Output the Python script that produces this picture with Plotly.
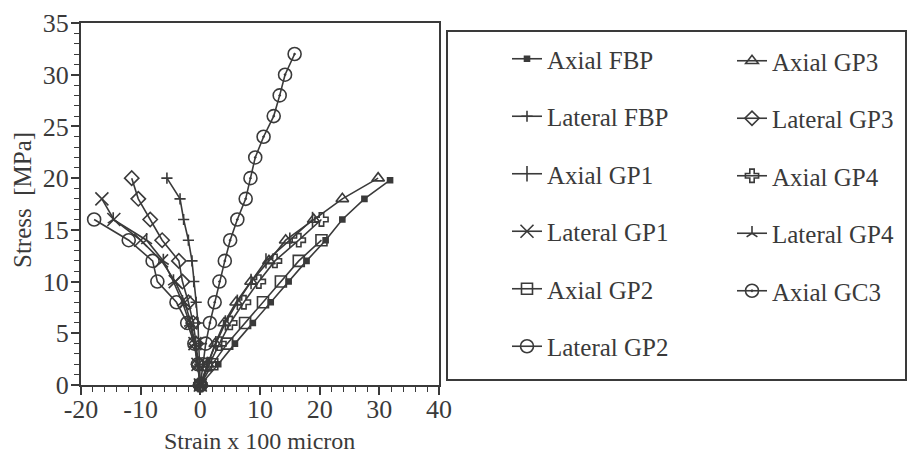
import plotly.graph_objects as go

# ---------------- data ----------------
axial_fbp_strain = [0, 3.0, 5.8, 8.8, 11.8, 14.8, 17.8, 21.0, 23.8, 27.5, 31.8]
axial_fbp_stress = [0, 2, 4, 6, 8, 10, 12, 14, 16, 18, 19.8]

lateral_fbp_strain = [0, -0.1, -0.2, -0.4, -0.7, -1.1, -1.4, -2.0, -2.8, -3.4, -5.6]
lateral_fbp_stress = [0, 2, 4, 6, 8, 10, 12, 14, 16, 18, 20]

axial_gp1_strain = [0, 1.2, 2.6, 4.2, 6.2, 8.5, 11.0, 15.0, 18.8]
axial_gp1_stress = [0, 2, 4, 6, 8, 10, 12, 14, 16]

lateral_gp1_strain = [0, -0.4, -0.9, -1.6, -2.6, -4.2, -6.5, -10.0, -14.5, -16.5]
lateral_gp1_stress = [0, 2, 4, 6, 8, 10, 12, 14, 16, 18]

axial_gp2_strain = [0, 2.0, 4.5, 7.5, 10.5, 13.5, 16.5, 20.3]
axial_gp2_stress = [0, 2, 4, 6, 8, 10, 12, 14]

lateral_gp2_strain = [0, -0.4, -1.0, -2.2, -4.0, -7.2, -8.0, -12.0, -17.8]
lateral_gp2_stress = [0, 2, 4, 6, 8, 10, 12, 14, 16]

axial_gp3_strain = [0, 1.2, 2.5, 4.0, 6.0, 8.5, 11.5, 14.3, 19.0, 23.8, 29.8]
axial_gp3_stress = [0, 2, 4, 6, 8, 10, 12, 14, 16, 18, 20]

lateral_gp3_strain = [0, -0.3, -0.7, -1.2, -2.0, -3.0, -3.6, -6.4, -8.4, -10.4, -11.5]
lateral_gp3_stress = [0, 2, 4, 6, 8, 10, 12, 14, 16, 18, 20]

axial_gp4_strain = [0, 1.5, 3.2, 5.0, 7.3, 9.8, 12.5, 16.5, 20.3]
axial_gp4_stress = [0, 2, 4, 6, 8, 10, 12, 14, 16]

lateral_gp4_strain = [0, -0.5, -1.0, -1.8, -3.0, -4.5, -6.2, -9.0, -14.6]
lateral_gp4_stress = [0, 2, 4, 6, 8, 10, 12, 14, 16]

axial_gc3_strain = [0, 0.4, 0.9, 1.6, 2.4, 3.2, 4.1, 5.0, 6.2, 7.6, 8.4, 9.2, 10.6, 12.3, 13.3, 14.2, 15.8]
axial_gc3_stress = [0, 2, 4, 6, 8, 10, 12, 14, 16, 18, 20, 22, 24, 26, 28, 30, 32]

x_tick_values = [-20, -10, 0, 10, 20, 30, 40]
y_tick_values = [0, 5, 10, 15, 20, 25, 30, 35]

x_title = "Strain x 100 micron"
y_title = "Stress  [MPa]"

# ---------------- styling ----------------
INK = "#3a3a3a"
FONT = "Liberation Serif"

series = [
    # name, x, y, symbol, size, legend
    ("Axial FBP", axial_fbp_strain, axial_fbp_stress, "square", 5, "legend"),
    ("Lateral FBP", lateral_fbp_strain, lateral_fbp_stress, "cross-thin-open", 8, "legend"),
    ("Axial GP1", axial_gp1_strain, axial_gp1_stress, "line-ns-open", 11, "legend"),
    ("Lateral GP1", lateral_gp1_strain, lateral_gp1_stress, "x-thin-open", 13, "legend"),
    ("Axial GP2", axial_gp2_strain, axial_gp2_stress, "square-open", 11, "legend"),
    ("Lateral GP2", lateral_gp2_strain, lateral_gp2_stress, "circle-open", 13, "legend"),
    ("Axial GP3", axial_gp3_strain, axial_gp3_stress, "triangle-up-open", 11, "legend2"),
    ("Lateral GP3", lateral_gp3_strain, lateral_gp3_stress, "diamond-open", 11, "legend2"),
    ("Axial GP4", axial_gp4_strain, axial_gp4_stress, "cross-open", 11, "legend2"),
    ("Lateral GP4", lateral_gp4_strain, lateral_gp4_stress, "y-up-open", 9, "legend2"),
    ("Axial GC3", axial_gc3_strain, axial_gc3_stress, "circle-open-dot", 13, "legend2"),
]

fig = go.Figure()
for name, xs, ys, sym, size, leg in series:
    fig.add_trace(go.Scatter(
        x=xs, y=ys, name=name, mode="lines+markers",
        line=dict(color=INK, width=1.6),
        marker=dict(symbol=sym, size=size, color=INK,
                    line=dict(color=INK, width=1.6)),
        legend=leg, legendgroup=name, cliponaxis=False,
    ))

W, H = 911, 456
L, R, T, B = 81, 439, 23, 385
pw, ph = R - L, B - T

legend_common = dict(
    font=dict(family=FONT, size=25, color=INK),
    bgcolor="rgba(0,0,0,0)", borderwidth=0,
    traceorder="grouped", tracegroupgap=22,
    xref="container", yref="container",
    xanchor="left", yanchor="top",
    maxheight=420,
)

fig.update_layout(
    template="none",
    width=W, height=H,
    margin=dict(l=L, r=W - R, t=T, b=H - B, autoexpand=False),
    paper_bgcolor="white", plot_bgcolor="white",
    font=dict(family=FONT, size=24, color=INK),
    showlegend=True,
    legend=dict(x=507 / W, y=1 - 36 / H, **legend_common),
    legend2=dict(x=732 / W, y=1 - 38 / H, **legend_common),
    xaxis=dict(
        range=[-20, 40], tickvals=x_tick_values,
        ticktext=[str(v) for v in x_tick_values],
        ticks="outside", ticklen=8, tickwidth=1.6, tickcolor=INK,
        minor=dict(dtick=2, ticks="outside", ticklen=5, tickwidth=1.2, tickcolor=INK),
        showline=True, linecolor=INK, linewidth=2, mirror=True,
        showgrid=False, zeroline=False, automargin=False,
        tickfont=dict(family=FONT, size=26, color=INK),
        ticklabelstandoff=-8,
    ),
    yaxis=dict(
        range=[0, 35], tickvals=y_tick_values,
        ticktext=[str(v) for v in y_tick_values],
        ticks="outside", ticklen=8, tickwidth=1.6, tickcolor=INK,
        minor=dict(dtick=1, ticks="outside", ticklen=5, tickwidth=1.2, tickcolor=INK),
        showline=True, linecolor=INK, linewidth=2, mirror=True,
        showgrid=False, zeroline=False, automargin=False,
        tickfont=dict(family=FONT, size=26, color=INK),
        ticklabelstandoff=-3,
    ),
)

# axis titles as annotations for exact placement
fig.add_annotation(text=x_title, xref="paper", yref="paper",
                   x=(259 - L) / pw, y=(B - 441) / ph,
                   xanchor="center", yanchor="middle", showarrow=False,
                   font=dict(family=FONT, size=24, color=INK))
fig.add_annotation(text=y_title, xref="paper", yref="paper",
                   x=(22 - L) / pw, y=(B - 200) / ph, textangle=-90,
                   xanchor="center", yanchor="middle", showarrow=False,
                   font=dict(family=FONT, size=25, color=INK))

# legend frame
fig.add_shape(type="rect", xref="paper", yref="paper",
              x0=(447 - L) / pw, x1=(906 - L) / pw,
              y0=(B - 380) / ph, y1=(B - 31) / ph,
              line=dict(color=INK, width=2), fillcolor="rgba(0,0,0,0)")

fig.write_html("out.html", config={"displayModeBar": False},
               post_script="document.body.style.margin='0px';document.body.style.overflow='hidden';")
